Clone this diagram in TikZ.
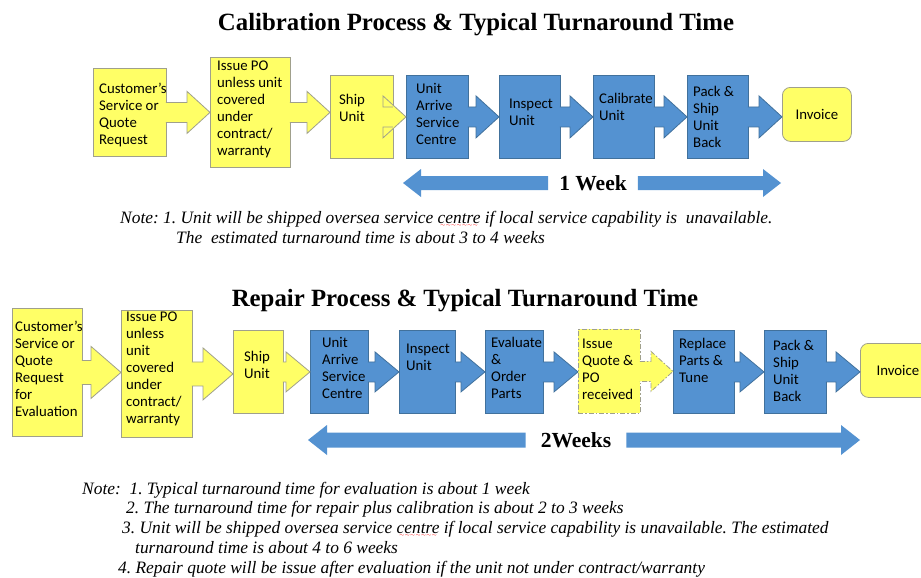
\documentclass[tikz,border=0pt]{standalone}
\usepackage{fontspec}
\setmainfont{Liberation Serif}
\newfontfamily\boxfont{Carlito}
\usetikzlibrary{calc}
\frenchspacing

\definecolor{stepblue}{RGB}{84,146,209}
\definecolor{stepline}{RGB}{65,113,156}
\definecolor{stepyellow}{RGB}{255,255,102}
\definecolor{yellowline}{RGB}{160,160,140}

% red spell-check wave under a word
\newcommand{\spellmark}[1]{\leavevmode\setbox0\hbox{#1}%
  \rlap{\lower3.5pt\hbox to\wd0{\color{red}\cleaders\hbox{\tiny$\sim$}\hfill}}\box0\relax}

% block arrow from the side of one node to a point (tip)
\newcommand{\blockarrow}[3][]{%
  \path[#1] let \p1=#2, \p2=#3, \n1={sign(\x2-\x1)} in
    (\x1-\n1*1pt,\y1+\cshaft) -- (\x2-\n1*\clen,\y1+\cshaft) -- (\x2-\n1*\clen,\y1+\chead)
    -- (\x2,\y1) -- (\x2-\n1*\clen,\y1-\chead) -- (\x2-\n1*\clen,\y1-\cshaft) -- (\x1-\n1*1pt,\y1-\cshaft);
}

\tikzset{
  callout shaft/.store in=\cshaft, callout head/.store in=\chead, callout len/.store in=\clen,
  callout shaft=10pt, callout head=21pt, callout len=23pt,
  stepbox/.style={draw, anchor=north west, inner sep=0pt, line width=0.8pt},
  bluebox/.style={stepbox, fill=stepblue, draw=stepline},
  yellowbox/.style={stepbox, fill=stepyellow, draw=yellowline},
  quotebox/.style={yellowbox, dash pattern=on 5pt off 2pt on 1.5pt off 2pt},
  boxtext/.style={anchor=north west, align=left, inner sep=0pt, font=\boxfont\fontsize{14.8}{17}\selectfont},
  pad/.style 2 args={xshift=#1, yshift=-#2},
  bluearrow/.style={fill=stepblue, draw=stepline, line width=0.8pt},
  yellowarrow/.style={fill=stepyellow, draw=yellowline, line width=0.8pt},
  spanarrow/.style={fill=stepblue, callout shaft=7pt, callout head=14pt, callout len=18pt},
  heading/.style={anchor=base, inner sep=0pt, font=\bfseries\fontsize{24.8}{28}\selectfont},
  weeks/.style={font=\bfseries\fontsize{21.5}{24}\selectfont},
  note/.style={anchor=base west, inner sep=0pt, font=\itshape\fontsize{17.4}{20}\selectfont},
}

\begin{document}
\begin{tikzpicture}[x=1pt,y=-1pt]
    \path[use as bounding box, fill=white] (0,0) rectangle (921,578);

    % calibration process
    \node[heading] (title1) at (476,31) {Calibration Process \& Typical Turnaround Time};

    \node[yellowbox, minimum width=73pt, minimum height=88pt,
          label={[boxtext, pad={6}{15}]north west:Customer’s\\Service or\\Quote\\Request}] (cust) at (93,68) {};
    \node[yellowbox, minimum width=80pt, minimum height=110pt,
          label={[boxtext, pad={7}{4}]north west:Issue PO\\unless unit\\covered\\under\\contract/\\warranty}] (issue) at (210,57) {};
    \node[yellowbox, minimum width=63pt, minimum height=83pt,
          label={[boxtext, pad={9}{19}]north west:Ship\\Unit}] (ship) at (330,75) {};
    \node[bluebox, minimum width=62pt, minimum height=83pt,
          label={[boxtext, pad={10}{8}]north west:Unit\\Arrive\\Service\\Centre}] (arrive) at (406,75) {};
    \node[bluebox, minimum width=61pt, minimum height=83pt,
          label={[boxtext, pad={10}{24}]north west:Inspect\\Unit}] (inspect) at (499,75) {};
    \node[bluebox, minimum width=61pt, minimum height=83pt,
          label={[boxtext, pad={6}{18}]north west:Calibrate\\Unit}] (calib) at (593,75) {};
    \node[bluebox, minimum width=61pt, minimum height=83pt,
          label={[boxtext, pad={6}{11}]north west:Pack \&\\Ship\\Unit\\Back}] (pack) at (687,75) {};
    \node[yellowbox, rounded corners=8pt, minimum width=69pt, minimum height=54pt,
          font=\boxfont\fontsize{14.8}{17}\selectfont] (invoice) at (782,87) {Invoice};

    \blockarrow[yellowarrow]{(cust.east)}{(issue.west)}
    \blockarrow[yellowarrow]{(issue.east)}{(ship.west)}
    \blockarrow[yellowarrow]{(ship.east)}{(arrive.west)}
    \blockarrow[bluearrow]{(arrive.east)}{(inspect.west)}
    \blockarrow[bluearrow]{(inspect.east)}{(calib.west)}
    \blockarrow[bluearrow]{(calib.east)}{(pack.west)}
    \blockarrow[bluearrow]{(pack.east)}{(invoice.west)}

    \node[weeks, inner xsep=12pt] (week1) at (593,183) {1 Week};
    \coordinate (w1l) at (403,183);
    \coordinate (w1r) at (781,183);
    \blockarrow[spanarrow]{(week1.west)}{(w1l)}
    \blockarrow[spanarrow]{(week1.east)}{(w1r)}

    \node[note] (note1a) at (120,223) {Note: 1. Unit will be shipped oversea service \spellmark{centre} if local service capability is\ \ unavailable.};
    \node[note] (note1b) at (176,243) {The\ \ estimated turnaround time is about 3 to 4 weeks};

    % repair process
    \node[heading] (title2) at (465,306) {Repair Process \& Typical Turnaround Time};

    \node[yellowbox, minimum width=70pt, minimum height=128pt,
          label={[boxtext, pad={3}{13}]north west:Customer’s\\Service or\\Quote\\Request\\for\\Evaluation}] (cust2) at (12,308) {};
    \node[yellowbox, minimum width=71pt, minimum height=127pt,
          label={[boxtext, pad={5}{2}]north west:Issue PO\\unless\\unit\\covered\\under\\contract/\\warranty}] (issue2) at (121,310) {};
    \node[yellowbox, minimum width=50pt, minimum height=83pt,
          label={[boxtext, pad={11}{21}]north west:Ship\\Unit}] (ship2) at (233,330) {};
    \node[bluebox, minimum width=58pt, minimum height=83pt,
          label={[boxtext, pad={12}{7}]north west:Unit\\Arrive\\Service\\Centre}] (arrive2) at (310,330) {};
    \node[bluebox, minimum width=56pt, minimum height=83pt,
          label={[boxtext, pad={7}{14}]north west:Inspect\\Unit}] (inspect2) at (399,330) {};
    \node[bluebox, minimum width=58pt, minimum height=83pt,
          label={[boxtext, pad={6}{7}]north west:Evaluate\\\&\\Order\\Parts}] (eval2) at (485,330) {};
    \node[quotebox, minimum width=62pt, minimum height=84pt,
          label={[boxtext, pad={4}{10}]north west:Issue\\Quote \&\\PO\\received}] (quote2) at (578,329) {};
    \node[bluebox, minimum width=61pt, minimum height=83pt,
          label={[boxtext, pad={6}{8}]north west:Replace\\Parts \&\\Tune}] (replace2) at (673,330) {};
    \node[bluebox, minimum width=62pt, minimum height=83pt,
          label={[boxtext, pad={9}{10}]north west:Pack \&\\Ship\\Unit\\Back}] (pack2) at (764,330) {};
    \node[yellowbox, rounded corners=8pt, minimum width=75pt, minimum height=54pt,
          font=\boxfont\fontsize{14.8}{17}\selectfont] (invoice2) at (860,343) {Invoice};

    \blockarrow[yellowarrow, callout shaft=12pt, callout head=26pt, callout len=30pt]{(cust2.east)}{(issue2.west)}
    \blockarrow[yellowarrow, callout shaft=12pt, callout head=26pt, callout len=30pt]{(issue2.east)}{(ship2.west)}
    \blockarrow[yellowarrow, callout head=20pt, callout len=24pt]{(ship2.east)}{(arrive2.west)}
    \blockarrow[bluearrow, callout head=20pt, callout len=24pt]{(arrive2.east)}{(inspect2.west)}
    \blockarrow[bluearrow, callout head=20pt, callout len=24pt]{(inspect2.east)}{(eval2.west)}
    \blockarrow[bluearrow, callout head=20pt, callout len=24pt]{(eval2.east)}{(quote2.west)}
    \blockarrow[yellowarrow, dash pattern=on 5pt off 2pt on 1.5pt off 2pt, callout head=20pt, callout len=22pt]{(quote2.east)}{(replace2.west)}
    \blockarrow[bluearrow, callout head=20pt, callout len=24pt]{(replace2.east)}{(pack2.west)}
    \blockarrow[bluearrow, callout head=20pt, callout len=24pt]{(pack2.east)}{(invoice2.west)}

    \node[weeks, inner xsep=16pt] (weeks2) at (576,440) {2Weeks};
    \coordinate (w2l) at (308,440);
    \coordinate (w2r) at (860,440);
    \blockarrow[spanarrow, callout shaft=7.5pt, callout head=15pt, callout len=19pt]{(weeks2.west)}{(w2l)}
    \blockarrow[spanarrow, callout shaft=7.5pt, callout head=15pt, callout len=19pt]{(weeks2.east)}{(w2r)}

    \node[note] (note2a) at (82,494) {Note:\ \ 1. Typical turnaround time for evaluation is about 1 week};
    \node[note] (note2b) at (126,513) {2. The turnaround time for repair plus calibration is about 2 to 3 weeks};
    \node[note] (note2c) at (122,533) {3. Unit will be shipped oversea service \spellmark{centre} if local service capability is unavailable. The estimated};
    \node[note] (note2d) at (135,553) {turnaround time is about 4 to 6 weeks};
    \node[note] (note2e) at (118,573) {4. Repair quote will be issue after evaluation if the unit not under contract/warranty};
\end{tikzpicture}
\end{document}
